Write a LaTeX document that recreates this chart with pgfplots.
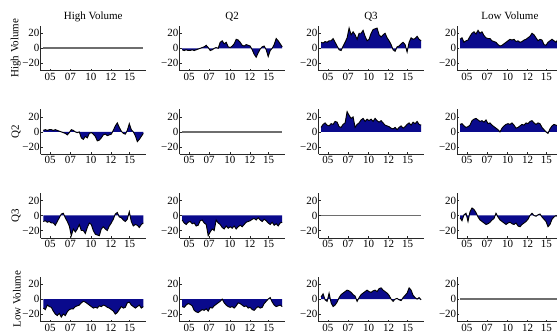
\documentclass[border=0pt]{standalone}
\usepackage{pgfplots}
\pgfplotsset{compat=1.18}
\usepackage{pgfplotstable}
\usepackage{fontspec}
\setmainfont{Liberation Serif}
\definecolor{fillblue}{RGB}{10,10,140}
\definecolor{diaggray}{RGB}{110,110,110}
\definecolor{axgray}{RGB}{40,40,40}

\pgfplotstableread{
i A B C D E F nA nB nC nD nE nF
0 -2 8 12 6 10 -3 2 -8 -12 -6 -10 3
1 -3 7 14 10 11 -7 3 -7 -14 -10 -11 7
2 -2 9 8 12 8 1 2 -9 -8 -12 -8 -1
3 -3 8 10 9 6 3 3 -8 -10 -9 -6 -3
4 -3 10 11 8 7 -8 3 -10 -11 -8 -7 8
5 -2 10 16 11 9 5 2 -10 -16 -11 -9 -5
6 -3 13 20 10 15 10 3 -13 -20 -10 -15 -10
7 -2 8 22 14 17 8 2 -8 -22 -14 -17 -8
8 -1 3 19 13 18 4 1 -3 -19 -13 -18 -4
9 0 -2 24 7 16 -2 0 2 -24 -7 -16 2
10 1 -3 20 6 14 -6 -1 3 -20 -6 -14 6
11 2 3 22 10 15 -8 -2 -3 -22 -10 -15 8
12 4 8 17 12 13 -10 -4 -8 -17 -12 -13 10
13 1 14 14 27 16 -12 -1 -14 -14 -27 -16 12
14 -3 27 13 22 11 -11 3 -27 -13 -22 -11 11
15 -2 18 13 18 12 -9 2 -18 -13 -18 -12 9
16 0 22 10 20 9 -6 0 -22 -10 -20 -9 6
17 1 18 9 6 7 -4 -1 -18 -9 -6 -7 4
18 0 12 8 10 5 3 0 -12 -8 -10 -5 -3
19 8 20 5 12 3 -2 -8 -20 -5 -12 -3 2
20 10 20 3 16 0 -6 -10 -20 -3 -16 0 6
21 6 24 4 18 5 -8 -6 -24 -4 -18 -5 8
22 8 16 6 14 8 -10 -8 -16 -6 -14 -8 10
23 2 10 8 17 10 -12 -2 -10 -8 -17 -10 12
24 1 12 10 15 11 -10 -1 -12 -10 -15 -11 10
25 3 20 12 17 10 -9 -3 -20 -12 -17 -10 9
26 6 25 11 14 12 -11 -6 -25 -11 -14 -12 11
27 12 26 12 18 9 -12 -12 -26 -12 -18 -9 12
28 11 27 9 15 5 -10 -11 -27 -9 -15 -5 10
29 8 18 10 13 6 -14 -8 -18 -10 -13 -6 14
30 4 15 8 15 8 -15 -4 -15 -8 -15 -8 15
31 3 18 9 12 10 -12 -3 -18 -9 -12 -10 12
32 5 20 11 9 9 -10 -5 -20 -11 -9 -9 10
33 4 14 12 8 12 -8 -4 -14 -12 -8 -12 8
34 3 10 14 7 11 -5 -3 -10 -14 -7 -11 5
35 -2 5 16 5 14 0 2 -5 -16 -5 -14 0
36 -8 -2 20 4 15 3 8 2 -20 -4 -15 -3
37 -12 -4 18 6 12 0 12 4 -18 -6 -12 0
38 -6 2 14 3 10 -1 6 -2 -14 -3 -10 1
39 -1 3 10 6 12 1 1 -3 -10 -6 -12 -1
40 2 6 12 8 11 2 -2 -6 -12 -8 -11 -2
41 3 8 11 5 6 -2 -3 -8 -11 -5 -6 2
42 -2 5 5 7 3 -5 2 -5 -5 -7 -3 5
43 -11 -5 4 10 0 -8 11 5 -4 -10 0 8
44 -3 8 8 12 -2 -15 3 -8 -8 -12 2 15
45 0 14 10 9 4 -12 0 -14 -10 -9 -4 12
46 5 12 12 13 8 -5 -5 -12 -12 -13 -8 5
47 13 13 10 11 10 -2 -13 -13 -10 -11 -10 2
48 10 16 8 14 9 0 -10 -16 -8 -14 -9 0
49 6 12 12 10 8 -2 -6 -12 -12 -10 -8 2
50 2 10 10 9 10 1 -2 -10 -10 -9 -10 -1
}\data

\pgfplotsset{panel/.style={
  scale only axis, width=105pt, height=45pt,
  xmin=-1.3, xmax=51.2, ymin=-30, ymax=30,
  axis x line=bottom, axis y line=left,
  axis line style={-, axgray, line width=0.6pt},
  xtick={3.4,13.5,23.8,33.8,43.2}, xticklabels={05,07,10,12,15},
  ytick={-20,0,20}, yticklabels={−20,0,20},
  tick align=inside, major tick length=2pt,
  tick style={axgray, line width=0.5pt},
  ticklabel style={font=\fontsize{11}{13}\selectfont},
  yticklabel style={inner sep=1pt},
  xticklabel style={inner sep=2pt},
  title style={font=\fontsize{11}{13}\selectfont, text depth=0.25em, text height=0.7em, yshift=-6pt},
  ylabel style={font=\fontsize{11}{13}\selectfont},
  ylabel shift=-3pt,
}}

\newcommand{\panel}[4]{%
  \begin{axis}[panel, at={(#1pt,#2pt)}, anchor=south west, #4]
    \addplot[fill=fillblue, draw=none] table[x=i,y=#3]{\data} \closedcycle;
    \addplot[black, line width=0.9pt] table[x=i,y=#3]{\data};
  \end{axis}}
\newcommand{\diagpanel}[3]{%
  \begin{axis}[panel, at={(#1pt,#2pt)}, anchor=south west, #3]
    \addplot[diaggray, line width=1.8pt] coordinates {(0,0) (50,0)};
  \end{axis}}

\begin{document}
\begin{tikzpicture}
\useasboundingbox (0pt,0pt) rectangle (557pt,334pt);
\clip (0pt,0pt) rectangle (557pt,334pt);
% row 1
\diagpanel{40.7}{263.2}{title={High Volume}, ylabel={High Volume}}
\panel{179.6}{263.2}{A}{title={Q2}}
\panel{318.5}{263.2}{B}{title={Q3}}
\panel{457.4}{263.2}{C}{title={Low Volume}}
% row 2
\panel{40.7}{179.6}{nA}{ylabel={Q2}}
\diagpanel{179.6}{179.6}{}
\panel{318.5}{179.6}{D}{}
\panel{457.4}{179.6}{E}{}
% row 3
\panel{40.7}{96.0}{nB}{ylabel={Q3}}
\panel{179.6}{96.0}{nD}{}
\diagpanel{318.5}{96.0}{}
\panel{457.4}{96.0}{F}{}
% row 4
\panel{40.7}{12.4}{nC}{ylabel={Low Volume}}
\panel{179.6}{12.4}{nE}{}
\panel{318.5}{12.4}{nF}{}
\diagpanel{457.4}{12.4}{}
\end{tikzpicture}
\end{document}
